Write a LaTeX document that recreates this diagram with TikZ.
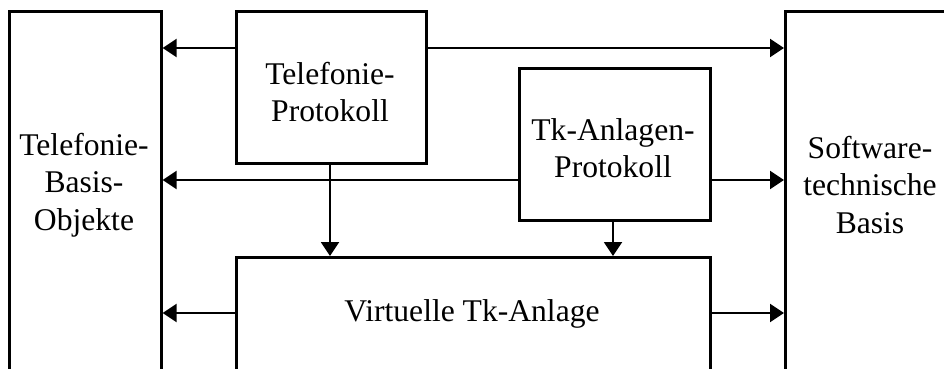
\documentclass[tikz,border=0pt]{standalone}
\usepackage{fontspec}
\setmainfont{Liberation Serif}
\usetikzlibrary{arrows.meta}
\begin{document}
\begin{tikzpicture}[x=1pt,y=-1pt,
  blk/.style={draw,line width=2.6pt,rectangle,anchor=north west,inner sep=0pt},
  lbl/.style={align=center,font=\fontsize{31.6}{37.5}\selectfont,inner sep=0pt},
  arr/.style={line width=2pt,-{Triangle[length=14pt,width=18pt]}}]
\useasboundingbox (0,0) rectangle (944,369);
\clip (0,0) rectangle (944,369);
% boxes (the outer and the lower ones run on below the frame)
\node[blk,minimum width=152pt,minimum height=400pt] (lb)  at (8,10) {};
\node[blk,minimum width=190pt,minimum height=152pt] (tp)  at (235,10) {};
\node[blk,minimum width=191pt,minimum height=152pt] (tap) at (518,67) {};
\node[blk,minimum width=474pt,minimum height=160pt] (vt)  at (235,256) {};
\node[blk,minimum width=200pt,minimum height=400pt] (rb)  at (784,10) {};
% texts
\node[lbl] (lbt)  at (84,185)  {Telefonie-\\Basis-\\Objekte};
\node[lbl] (rbt)  at (870,185) {Software-\\technische\\Basis};
\node[lbl] (tpt)  at (330,92)  {Telefonie-\\Protokoll};
\node[lbl] (tapt) at (613,148) {Tk-Anlagen-\\Protokoll};
\node[lbl] (vtt)  at (472,314) {Virtuelle Tk-Anlage};
% connectors
\coordinate (ya) at (0,48);
\coordinate (yb) at (0,180);
\coordinate (yc) at (0,313);
\coordinate (xa) at (330,0);
\coordinate (xb) at (613,0);
\draw[arr] (tp.west |- ya) -- (lb.east |- ya);
\draw[arr] (tp.east |- ya) -- (rb.west |- ya);
\draw[arr] (tap.west |- yb) -- (lb.east |- yb);
\draw[arr] (tap.east |- yb) -- (rb.west |- yb);
\draw[arr] (xa |- tp.south) -- (xa |- vt.north);
\draw[arr] (xb |- tap.south) -- (xb |- vt.north);
\draw[arr] (vt.west |- yc) -- (lb.east |- yc);
\draw[arr] (vt.east |- yc) -- (rb.west |- yc);
\end{tikzpicture}
\end{document}
